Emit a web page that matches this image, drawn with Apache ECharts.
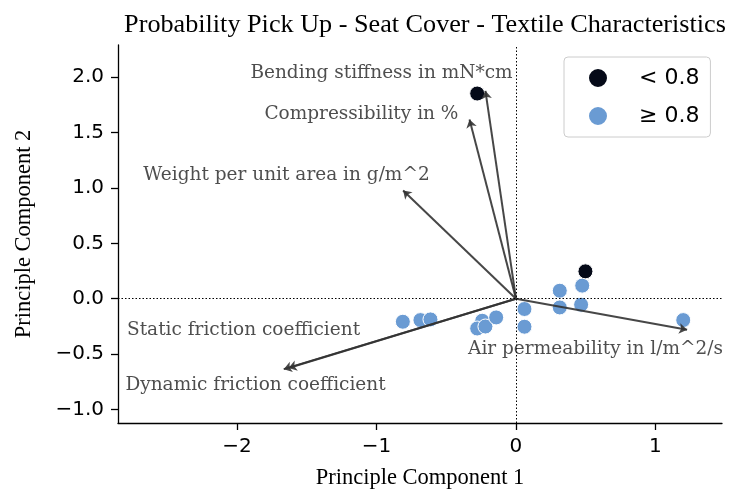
<!DOCTYPE html>
<html><head><meta charset="utf-8">
<script src="https://cdn.jsdelivr.net/npm/echarts@6/dist/echarts.min.js"></script>
<style>html,body{margin:0;padding:0;background:#fff}#c{width:742px;height:495px}</style>
</head><body><div id="c"></div>
<script>
// Scatter points (PC1, PC2)
const lowPts = [[-0.278, 1.852], [0.498, 0.247]];
const highPts = [[-0.811, -0.208], [-0.685, -0.193], [-0.613, -0.187], [-0.242, -0.199], [-0.278, -0.269],
  [-0.219, -0.251], [-0.142, -0.169], [0.061, -0.093], [0.061, -0.253], [0.314, 0.072], [0.314, -0.079],
  [0.475, 0.118], [0.467, -0.054], [1.199, -0.193]];
// Loading vectors
const featureNames = ['Bending stiffness in mN*cm', 'Compressibility in %', 'Weight per unit area in g/m^2',
  'Static friction coefficient', 'Dynamic friction coefficient', 'Air permeability in l/m^2/s'];
const loadX = [-0.219, -0.333, -0.809, -1.63, -1.665, 1.227];
const loadY = [1.876, 1.617, 0.977, -0.625, -0.636, -0.281];
const labelX = [-0.964, -1.108, -1.645, -1.953, -1.867, 0.570];
const labelY = [2.036, 1.665, 1.113, -0.281, -0.778, -0.452];
const xTicks = [-2, -1, 0, 1];
const yTicks = [-1, -0.5, 0, 0.5, 1, 1.5, 2];

const fmt = (v, d) => { const s = Math.abs(v).toFixed(d); return v < 0 ? '\u2212' + s : s; };
const arrows = loadX.map((x, i) => ({ coords: [[0, 0], [x, loadY[i]]] }));
const labels = featureNames.map((n, i) => ({ name: n, value: [labelX[i], labelY[i]] }));

const chart = echarts.init(document.getElementById('c'));
chart.setOption({
  animation: false,
  title: { text: 'Probability Pick Up - Seat Cover - Textile Characteristics', left: 420, textAlign: 'center', top: 7,
    textStyle: { fontFamily: 'Liberation Serif', fontSize: 26.2, fontWeight: 'normal', color: '#000' } },
  grid: { left: 118, right: 20, top: 45, bottom: 72, containLabel: false, outerBoundsMode: 'none' },
  legend: {
    left: 564, top: 57, orient: 'vertical', itemWidth: 20, itemHeight: 20, itemGap: 16,
    padding: [10, 11, 10, 23], borderColor: '#ccc', borderWidth: 1, borderRadius: 4,
    textStyle: { fontFamily: 'DejaVu Sans', fontSize: 22, color: '#000', padding: [0, 0, 0, 26] },
    data: [{ name: '< 0.8', icon: 'circle' }, { name: '\u2265 0.8', icon: 'circle' }]
  },
  xAxis: {
    type: 'value', min: -2.853, max: 1.477, splitLine: { show: false },
    name: 'Principle Component 1', nameLocation: 'middle', nameGap: 44,
    nameTextStyle: { fontFamily: 'Liberation Serif', fontSize: 22.5, color: '#000' },
    axisLine: { onZero: false, lineStyle: { color: '#000', width: 1.3 } },
    axisTick: { length: 7, customValues: xTicks, lineStyle: { color: '#000', width: 1.3 } },
    axisLabel: { customValues: xTicks, formatter: v => fmt(v, 0), fontFamily: 'DejaVu Sans', fontSize: 20, color: '#000', margin: 14 }
  },
  yAxis: {
    type: 'value', min: -1.122, max: 2.29, splitLine: { show: false },
    name: 'Principle Component 2', nameLocation: 'middle', nameGap: 82, nameRotate: 90,
    nameTextStyle: { fontFamily: 'Liberation Serif', fontSize: 22.5, color: '#000' },
    axisLine: { show: true, onZero: false, lineStyle: { color: '#000', width: 1.3 } },
    axisTick: { show: true, length: 7, customValues: yTicks, lineStyle: { color: '#000', width: 1.3 } },
    axisLabel: { customValues: yTicks, formatter: v => fmt(v, 1), fontFamily: 'DejaVu Sans', fontSize: 20, color: '#000', margin: 14 }
  },
  series: [
    { type: 'line', data: [], markLine: { silent: true, symbol: 'none', label: { show: false },
        lineStyle: { type: [1.5, 2], color: '#000', width: 1 },
        data: [{ xAxis: 0 }, { yAxis: 0 }] } },
    { name: '\u2265 0.8', type: 'scatter', data: highPts, symbolSize: 15, z: 3,
      itemStyle: { color: '#6a9bd3', borderColor: '#fff', borderWidth: 1, opacity: 1 } },
    { name: '< 0.8', type: 'scatter', data: lowPts, symbolSize: 15, z: 3,
      itemStyle: { color: '#050a18', borderColor: '#fff', borderWidth: 1, opacity: 1 } },
    { type: 'lines', coordinateSystem: 'cartesian2d', data: arrows, z: 4,
      symbol: ['none', 'arrow'], symbolSize: 8,
      lineStyle: { color: '#333', width: 2, opacity: 0.9 } },
    { type: 'scatter', data: labels, symbolSize: 0, z: 5, silent: true,
      label: { show: true, position: 'inside', formatter: p => p.name, fontFamily: 'DejaVu Serif', fontSize: 18.5, color: '#222' } }
  ]
});
</script></body></html>
